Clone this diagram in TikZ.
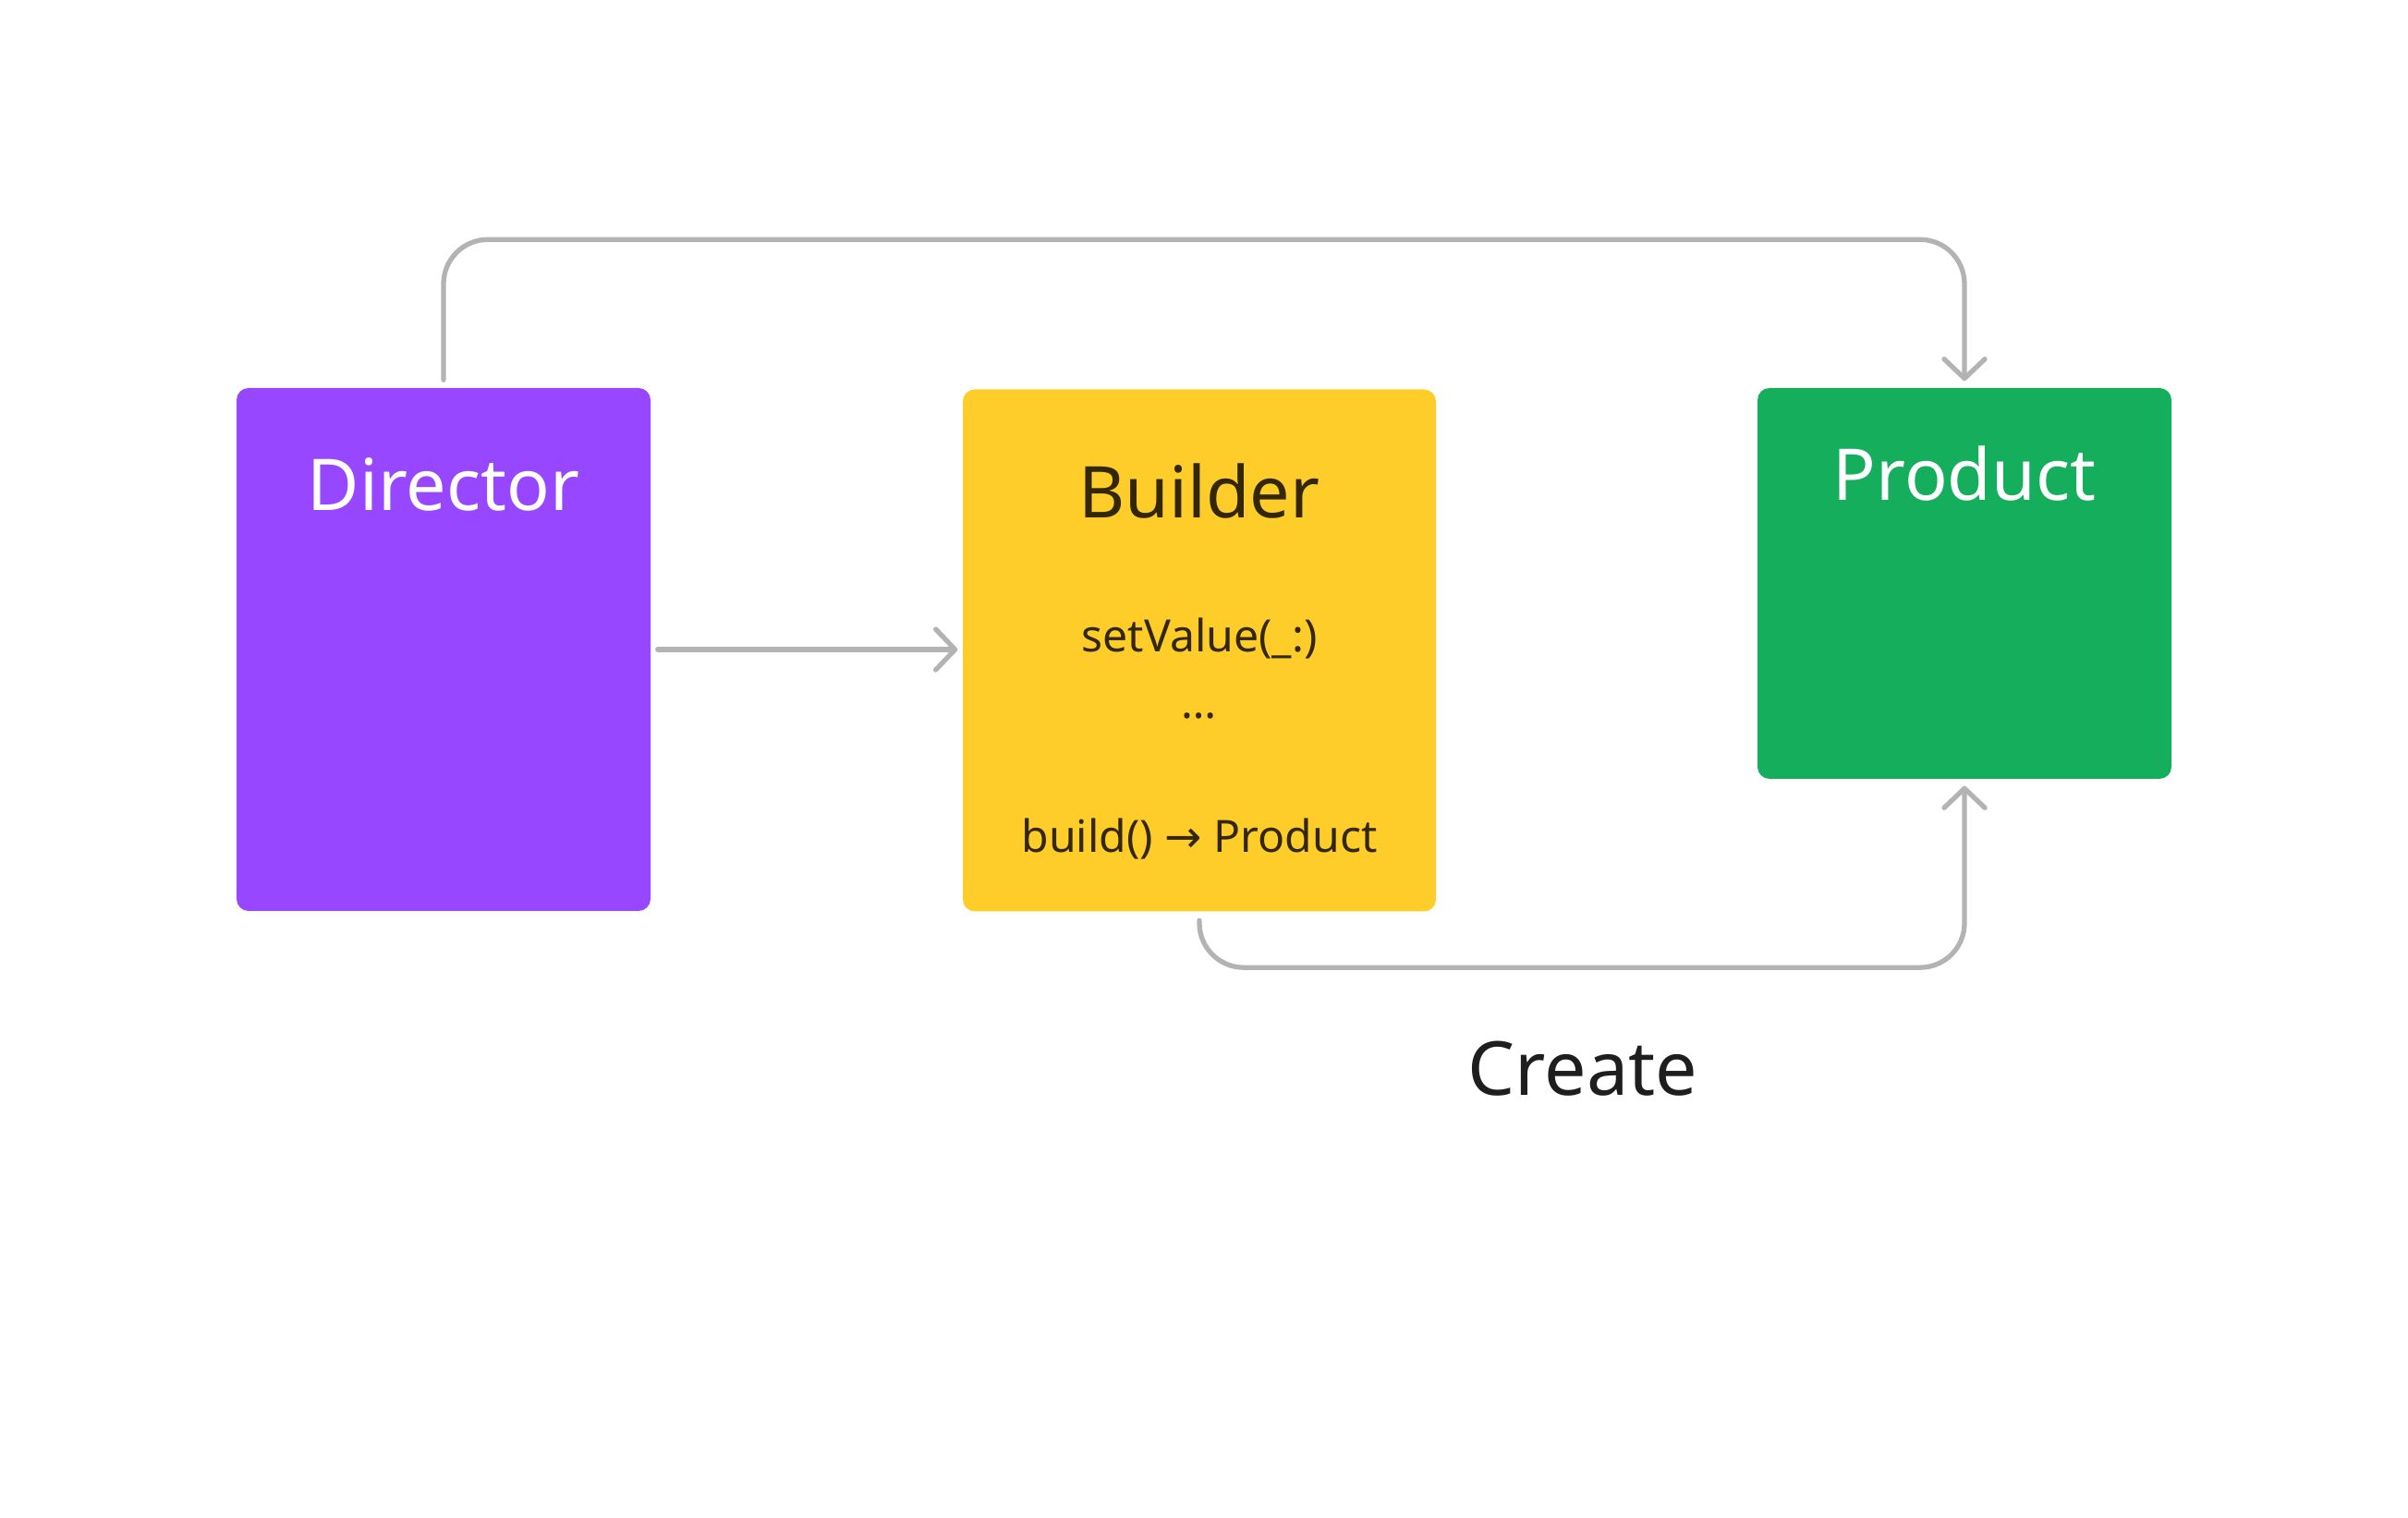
\documentclass[tikz,border=0pt]{standalone}
\usepackage{fontspec}
\setmainfont{Noto Sans}
\newfontfamily\arrowfont{DejaVu Sans}
\usetikzlibrary{arrows.meta}
\definecolor{dirpurple}{HTML}{9747FF}
\definecolor{bldyellow}{HTML}{FFCD29}
\definecolor{prodgreen}{HTML}{14AE5C}
\definecolor{linegray}{HTML}{B3B3B3}
\definecolor{bldtext}{HTML}{332700}
\definecolor{createtext}{HTML}{1E1E1E}
\begin{document}
\begin{tikzpicture}[
        box/.style={rectangle, rounded corners=0.13cm, inner sep=0pt},
        title/.style={anchor=base, inner sep=0pt, font=\fontsize{22}{27}\selectfont},
        member/.style={anchor=base, inner sep=0pt, font=\fontsize{13.7}{16}\selectfont, text=bldtext},
        conn/.style={draw=linegray, line width=1.5pt, line cap=round, rounded corners=0.48cm,
            -{Straight Barb[length=0.21cm, width=0.44cm, round]}}
    ]
        \useasboundingbox (0,0) rectangle (26.06,16.43);

        % boxes
        \node[box, fill=dirpurple, minimum width=4.48cm, minimum height=5.66cm] (dir) at (4.80,9.40) {};
        \node[box, fill=bldyellow, minimum width=5.12cm, minimum height=5.65cm] (bld) at (12.98,9.39) {};
        \node[box, fill=prodgreen, minimum width=4.48cm, minimum height=4.23cm] (prod) at (21.26,10.115) {};

        % titles
        \node[title, text=white] (dirtitle) at (4.80,10.90) {Director};
        \node[title, text=bldtext] (bldtitle) at (12.98,10.82) {Builder};
        \node[title, text=white] (prodtitle) at (21.26,11.01) {Product};

        % builder members
        \node[member] (setval) at (12.98,9.37) {setValue(\_:)};
        \node[member] (more) at (12.98,8.65) {…};
        \node[member] (build) at (12.98,7.20) {build() {\arrowfont →} Product};

        % connectors
        \draw[conn] ([yshift=0.08cm]dir.north) -- ++(0,1.52) -| ([yshift=0.07cm]prod.north);
        \draw[conn] ([xshift=0.07cm]dir.east) -- ([xshift=-0.05cm]dir.east -| bld.west);
        \draw[conn] ([yshift=-0.09cm]bld.south) -- ++(0,-0.51) -| ([yshift=-0.07cm]prod.south);

        \node[title, text=createtext, font=\fontsize{23}{28}\selectfont] (create) at (17.13,4.57) {Create};
    \end{tikzpicture}
\end{document}
